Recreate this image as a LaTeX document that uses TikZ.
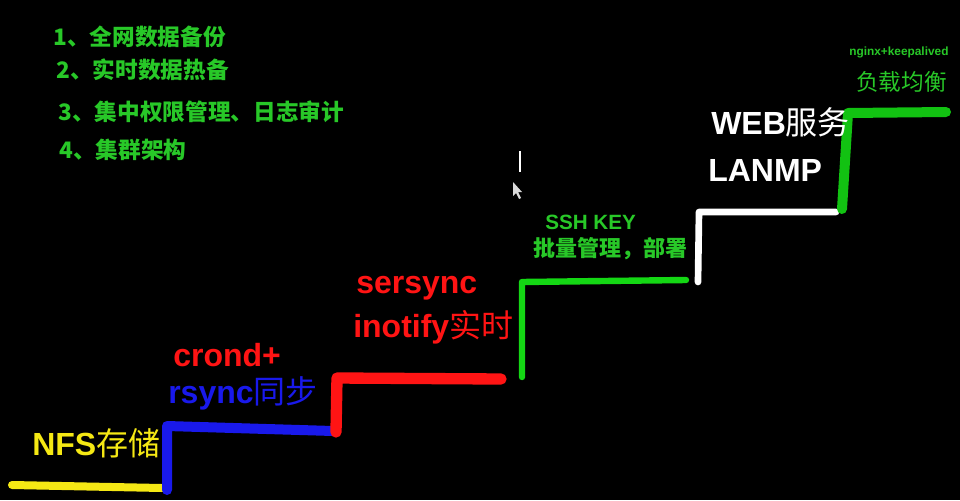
\documentclass[tikz,border=0pt]{standalone}
\usepackage{fontspec}
\setmainfont{Liberation Sans}
\newfontfamily\cjk{Noto Sans CJK SC}
\definecolor{listgreen}{RGB}{40,200,40}
\definecolor{linegreen}{RGB}{20,215,20}
\definecolor{stairyellow}{RGB}{245,232,20}
\definecolor{stairblue}{RGB}{25,25,235}
\definecolor{stairred}{RGB}{255,20,20}
\tikzset{
  listitem/.style={anchor=west, inner sep=0pt, text=listgreen, font=\cjk\bfseries\fontsize{17}{20}\selectfont},
  biglbl/.style={anchor=west, inner sep=0pt, font=\bfseries\fontsize{24}{28}\selectfont},
  stair/.style={line cap=round, line join=round}
}
\begin{document}
\begin{tikzpicture}[x=0.75pt,y=-0.75pt]
\fill[black] (0,0) rectangle (960,500);
\useasboundingbox (0,0) rectangle (960,500);

% list
\node[listitem] (l1) at (53,37) {1、全网数据备份};
\node[listitem] (l2) at (56,70) {2、实时数据热备};
\node[listitem] (l3) at (58,112) {3、集中权限管理、日志审计};
\node[listitem] (l4) at (59,150) {4、集群架构};

% stairs coordinates
\coordinate (y0) at (12,485);
\coordinate (y1) at (162,488);
\coordinate (b0) at (167,490);
\coordinate (b1) at (167,426);
\coordinate (b2) at (333,431);
\coordinate (r0) at (336,432);
\coordinate (r1) at (337,378);
\coordinate (r2) at (501,379);
\coordinate (g0) at (522,377);
\coordinate (g1) at (522,282);
\coordinate (g2) at (686,280);
\coordinate (w0) at (698,282);
\coordinate (w1) at (699,212);
\coordinate (w2) at (836,212);
\coordinate (t0) at (842,209);
\coordinate (t1) at (848,113);
\coordinate (t2) at (946,112);

\draw[stair, stairyellow, line width=6pt] (y0) -- (y1);
\draw[stair, stairblue, line width=7.5pt] (b0) -- (b1) -- (b2);
\draw[stair, stairred, line width=8.5pt] (r0) -- (r1) -- (r2);
\draw[stair, linegreen, line width=4.8pt] (g0) -- (g1) -- (g2);
\draw[stair, white, line width=5pt] (w0) -- (w1) -- (w2);
\draw[stair, linegreen!90!black, line width=7.5pt] (t0) -- (t1) -- (t2);

% labels
\node[biglbl, text=stairyellow] (nfs) at (32,443) {NFS{\cjk\mdseries 存储}};
\node[biglbl, text=stairred] (crond) at (173,355) {crond+};
\node[biglbl, text=stairblue] (rsync) at (168,393) {rsync{\cjk\mdseries 同步}};
\node[biglbl, text=stairred] (sersync) at (356,288) {sersync};
\node[biglbl, text=stairred] (inotify) at (353,327) {inotify{\cjk\mdseries 实时}};
\node[anchor=west, inner sep=0pt, text=listgreen, font=\bfseries\fontsize{15.5}{18}\selectfont] (ssh) at (545,222) {SSH KEY};
\node[anchor=west, inner sep=0pt, text=listgreen, font=\cjk\bfseries\fontsize{16.5}{19}\selectfont] (pl) at (533,249) {批量管理，部署};
\node[biglbl, text=white] (web) at (711,122) {WEB{\cjk\mdseries 服务}};
\node[biglbl, text=white] (lanmp) at (708,170) {LANMP};
\node[anchor=west, inner sep=0pt, text=listgreen, font=\bfseries\fontsize{8.9}{10}\selectfont] (ngx) at (849,52) {nginx+keepalived};
\node[anchor=west, inner sep=0pt, text=listgreen, font=\cjk\fontsize{17}{20}\selectfont] (lb) at (856,82) {负载均衡};

% screen cursor
\coordinate (c0) at (520,151);
\coordinate (c1) at (520,172);
\draw[white, line width=1.5pt] (c0) -- (c1);
\coordinate (p0) at (513,182);
\fill[white!85!black] (p0) -- ++(0,14) -- ++(3,-3) -- ++(3,6) -- ++(2,-1) -- ++(-3,-6) -- ++(4,0) -- cycle;
\end{tikzpicture}
\end{document}
